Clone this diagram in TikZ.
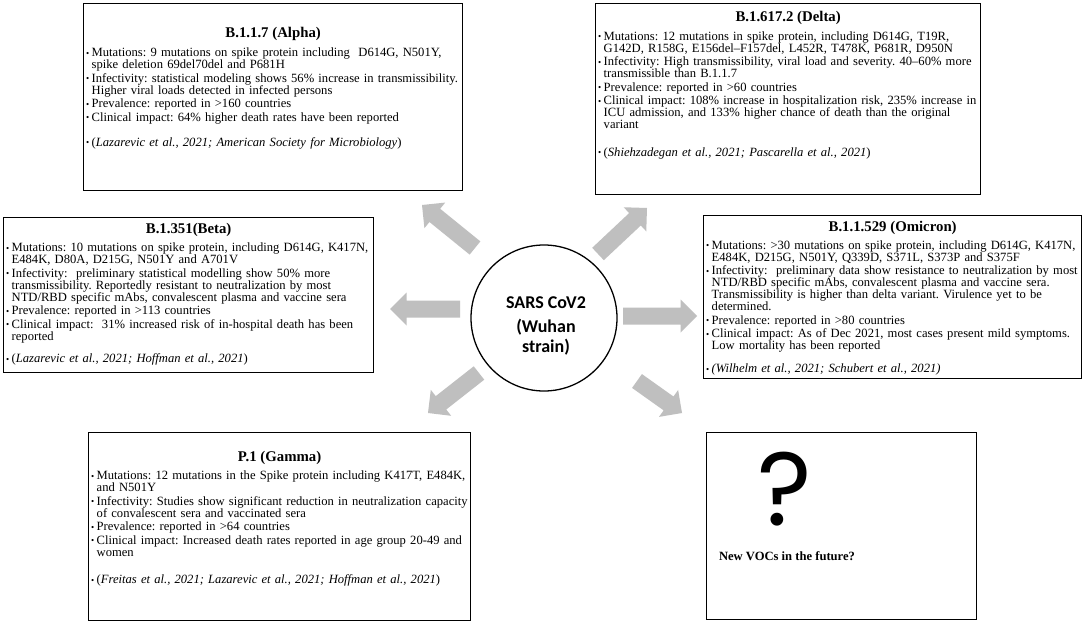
\documentclass[tikz,border=0pt]{standalone}
\usepackage{fontspec}
\setmainfont{Liberation Serif}
\newfontfamily\calib{Carlito}
\newfontfamily\qfont{Poppins}
\usetikzlibrary{calc}
\definecolor{arrowgray}{RGB}{191,191,191}
\frenchspacing
\newcommand{\bodyfont}{\fontsize{12.6}{12}\selectfont\frenchspacing}
\newcommand{\ttlfont}{\fontsize{14.8}{16}\selectfont\bfseries}
\newcommand{\bul}{\makebox[5.5pt][l]{\raisebox{0.6pt}{\fontsize{9}{9}\selectfont\textbullet}}}
\newcommand{\bitemF}[1]{\hangindent=5.5pt\hangafter=1\noindent\bul#1\par}
\newcommand{\bitem}[1]{\vspace{1.5pt}\bitemF{#1}}
\newcommand{\gapline}{\vspace{11.5pt}}
\newcommand{\blockarrow}[2]{%
  \coordinate (#1-b) at ($(#2)!16.5pt!(#1)$);
  \fill[arrowgray] ($(#1)!8.5pt!90:(#2)$) -- ($(#1-b)!8.5pt!-90:(#1)$) -- ($(#1-b)!16.5pt!-90:(#1)$) -- (#2) -- ($(#1-b)!16.5pt!90:(#1)$) -- ($(#1-b)!8.5pt!90:(#1)$) -- ($(#1)!8.5pt!-90:(#2)$) -- cycle;}

\begin{document}
\begin{tikzpicture}[x=1pt,y=-1pt,
  vbox/.style={draw=black, line width=1.3pt, fill=white, anchor=north west, inner sep=0pt},
  ttl/.style={font=\ttlfont, inner sep=0pt},
  body/.style={anchor=north west, inner sep=0pt, text width=440pt, font=\bodyfont},
  ctr/.style={font=\calib\bfseries\fontsize{18}{20}\selectfont, inner sep=0pt, align=center}]
\path[use as bounding box, fill=white] (0,0) rectangle (1084,623);

% ---------- Alpha
\node[vbox, minimum width=379pt, minimum height=187pt] (alpha) at (83,3) {};
\node[ttl] (alphaT) at ($(alpha.north)+(0,31)$) {B.1.1.7 (Alpha)};
\node[body] (alphaB) at ($(alpha.north west)+(3,45)$) {%
\bitemF{Mutations: 9 mutations on spike protein including~ D614G, N501Y,\newline spike deletion 69del70del and P681H}%
\bitem{Infectivity: statistical modeling shows 56\% increase in transmissibility.\newline Higher viral loads detected in infected persons}%
\bitem{Prevalence: reported in >160 countries}%
\bitem{Clinical impact: 64\% higher death rates have been reported}%
\gapline
\bitem{(\textit{Lazarevic et al., 2021; American Society for Microbiology})}};

% ---------- Delta
\node[vbox, minimum width=385pt, minimum height=191pt] (delta) at (595,3) {};
\node[ttl] (deltaT) at ($(delta.north)+(0,15)$) {B.1.617.2 (Delta)};
\node[body] (deltaB) at ($(delta.north west)+(3,28.5)$) {%
\bitemF{Mutations: 12 mutations in spike protein, including D614G, T19R,\newline G142D, R158G, E156del--F157del, L452R, T478K, P681R, D950N}%
\bitem{Infectivity: High transmissibility, viral load and severity. 40--60\% more\newline transmissible than B.1.1.7}%
\bitem{Prevalence: reported in >60 countries}%
\bitem{Clinical impact: 108\% increase in hospitalization risk, 235\% increase in\newline ICU admission, and 133\% higher chance of death than the original\newline variant}%
\vspace{14pt}
\bitem{(\textit{Shiehzadegan et al., 2021; Pascarella et al., 2021})}};

% ---------- Beta
\node[vbox, minimum width=370pt, minimum height=155pt] (beta) at (3,217) {};
\node[ttl] (betaT) at ($(beta.north)+(0,13)$) {B.1.351(Beta)};
\node[body] (betaB) at ($(beta.north west)+(3,26)$) {%
\bitemF{Mutations: 10 mutations on spike protein, including D614G, K417N,\newline E484K, D80A, D215G, N501Y and A701V}%
\bitem{Infectivity:~ preliminary statistical modelling show 50\% more\newline transmissibility. Reportedly resistant to neutralization by most\newline NTD/RBD specific mAbs, convalescent plasma and vaccine sera}%
\bitem{Prevalence: reported in >113 countries}%
\bitem{Clinical impact:~ 31\% increased risk of in-hospital death has been\newline reported}%
\vspace{9pt}
\bitem{(\textit{Lazarevic et al., 2021; Hoffman et al., 2021})}};

% ---------- Omicron
\node[vbox, minimum width=378pt, minimum height=163pt] (omicron) at (703,215) {};
\node[ttl] (omicronT) at ($(omicron.north)+(0,13)$) {B.1.1.529 (Omicron)};
\node[body] (omicronB) at ($(omicron.north west)+(3,25.5)$) {%
\bitemF{Mutations: >30 mutations on spike protein, including D614G, K417N,\newline E484K, D215G, N501Y, Q339D, S371L, S373P and S375F}%
\bitem{Infectivity:~ preliminary data show resistance to neutralization by most\newline NTD/RBD specific mAbs, convalescent plasma and vaccine sera.\newline Transmissibility is higher than delta variant. Virulence yet to be\newline determined.}%
\bitem{Prevalence: reported in >80 countries}%
\bitem{Clinical impact: As of Dec 2021, most cases present mild symptoms.\newline Low mortality has been reported}%
\vspace{9.5pt}
\bitem{\textit{(Wilhelm et al., 2021; Schubert et al., 2021)}}};

% ---------- Gamma
\node[vbox, minimum width=382pt, minimum height=188pt] (gamma) at (88,432) {};
\node[ttl] (gammaT) at ($(gamma.north)+(0,26)$) {P.1 (Gamma)};
\node[body] (gammaB) at ($(gamma.north west)+(3,39)$) {%
\bitemF{Mutations: 12 mutations in the Spike protein including K417T, E484K,\newline and N501Y}%
\bitem{Infectivity: Studies show significant reduction in neutralization capacity\newline of convalescent sera and vaccinated sera}%
\bitem{Prevalence: reported in >64 countries}%
\bitem{Clinical impact: Increased death rates reported in age group 20-49 and\newline women}%
\vspace{14pt}
\bitem{(\textit{Freitas et al., 2021; Lazarevic et al., 2021; Hoffman et al., 2021})}};

% ---------- New VOCs
\node[vbox, minimum width=270pt, minimum height=187pt] (voc) at (706,432) {};
\node[inner sep=0pt, text height=72pt, text depth=0pt, font=\qfont\fontsize{104}{104}\selectfont] (qmark) at (785,489) {?};
\node[inner sep=0pt, font=\fontsize{12.6}{14}\selectfont\bfseries] (vocT) at (787,556) {New VOCs in the future?};

% ---------- centre
\node[circle, draw=black, line width=1.3pt, minimum size=146pt, inner sep=0pt] (sars) at (544,318) {};
\node[ctr] (sarsT) at (546,303) {SARS CoV2};
\node[ctr] (wuhanT) at (546,337) {(Wuhan\\strain)};

% ---------- arrows
\coordinate (tA) at (475,248); \coordinate (hA) at (422,205);
\coordinate (tD) at (598,254); \coordinate (hD) at (647,208);
\coordinate (tB) at (460,309); \coordinate (hB) at (390,309);
\coordinate (tO) at (623,316); \coordinate (hO) at (697,316);
\coordinate (tG) at (479,373); \coordinate (hG) at (428,413);
\coordinate (tV) at (637,381); \coordinate (hV) at (682,413);
\blockarrow{tA}{hA}
\blockarrow{tD}{hD}
\blockarrow{tB}{hB}
\blockarrow{tO}{hO}
\blockarrow{tG}{hG}
\blockarrow{tV}{hV}
\end{tikzpicture}
\end{document}
